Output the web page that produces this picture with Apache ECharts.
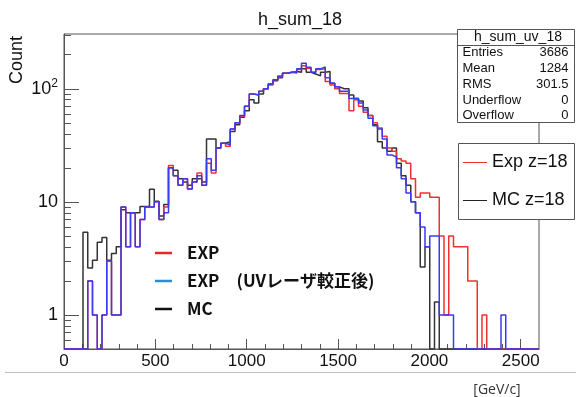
<!DOCTYPE html>
<html><head><meta charset="utf-8">
<script src="https://cdn.jsdelivr.net/npm/echarts@6/dist/echarts.min.js"></script>
<style>html,body{margin:0;padding:0;background:#fff}#c{width:576px;height:397px}</style>
</head><body><div id="c"></div><script>
// histogram: 100 bins of width 26 from 0 to 2600
const binWidth = 26;
const expUvCounts = [0,0,0,0,0,2,1,0,1,3, 1,1,9,4,8,4,7,9,9,10, 7,8,20,17,14,16,13,15,17,14,
  24,19,30,33,32,44,50,58,70,90, 88,95,100,110,120,130,137,140,138,150, 168,155,140,150,156,125,112,104,95,95,
  82,82,75,65,55,47,44,36,26,25, 20,16,12,10,8,6,4,5,5,1, 1,1,0,0,0,0,0,0,0,0, 0,0,1,0,0,0,0,0,0,0];
const expCounts = [0,0,0,0,0,2,1,0,1,3, 1,1,9,4,8,4,7,9,9,10, 7,9,21,17,14,16,13,15,18,14,
  22,18,30,33,31,44,50,57,70,90, 88,95,100,108,120,128,137,140,140,148, 160,152,140,148,150,116,108,100,91,91,
  64,80,70,62,58,50,45,38,30,28, 24,23,22,16,11,12,12,11,11,5, 1,5,4,4,4,2,2,0,1,0, 0,0,0,0,0,0,0,0,0,0];
const mcCounts = [0,0,0,0,5.4,2.6,3.05,4.4,4.85,3.05, 3.5,4.0,8.5,8,8,8,9.1,9.1,12.9,10.1, 7.5,9.5,20,19,16,15,14,16,16,15,
  36,36,30,33,34,42,48,56,64,80, 75,90,100,110,118,125,137,140,142,140, 150,140,135,130,140,142,112,104,100,100,
  88,82,78,68,58,48,34,30,28,30, 22,17,14,10,8,2.65,4,0,1.3,0, 0,0,0,0,0,0,0,0,0,0, 0,0,0,0,0,0,0,0,0,0];
const xMajorTicks = [0,500,1000,1500,2000,2500];
const xMinorTicks = [100,200,300,400,600,700,800,900,1100,1200,1300,1400,1600,1700,1800,1900,2100,2200,2300,2400];
const yMajorTicks = [1,10,100];
const yMinorTicks = [0.6,0.7,0.8,0.9,2,3,4,5,6,7,8,9,20,30,40,50,60,70,80,90,200,300];
const statsTitle = 'h_sum_uv_18';
const statsNames = ['Entries','Mean','RMS','Underflow','Overflow'];
const statsValues = ['3686','1284','301.5','0','0'];

const Y_MIN = 0.5, Y_MAX = 305;
function steps(counts){
  const d = counts.map((c,i)=>[i*binWidth, c>0?c:Y_MIN]);
  const last = counts[counts.length-1];
  d.push([counts.length*binWidth, last>0?last:Y_MIN]);
  return d;
}
const FONT = '"Liberation Sans", Arial, sans-serif';
const AX = '#555';
const chart = echarts.init(document.getElementById('c'), null, {renderer:'canvas'});
const statsChildren = [
  {type:'rect', shape:{x:457.5,y:29.5,width:117,height:93}, style:{fill:'#fff',stroke:AX,lineWidth:1}},
  {type:'line', shape:{x1:457.5,y1:45.5,x2:574.5,y2:45.5}, style:{stroke:AX,lineWidth:1}},
  {type:'text', x:518, y:37.5, style:{text:statsTitle, font:'14px '+FONT, fill:'#111', align:'center', verticalAlign:'middle'}}
];
statsNames.forEach((n,i)=>{
  statsChildren.push({type:'text', x:462.5, y:52.7+i*15.75, style:{text:n, font:'13px '+FONT, fill:'#111', align:'left', verticalAlign:'middle'}});
  statsChildren.push({type:'text', x:568.5, y:52.7+i*15.75, style:{text:statsValues[i], font:'13px '+FONT, fill:'#111', align:'right', verticalAlign:'middle'}});
});
const legendChildren = [
  {type:'rect', shape:{x:458.5,y:143.5,width:116,height:76}, style:{fill:'#fff',stroke:AX,lineWidth:1}},
  {type:'line', shape:{x1:463,y1:162.5,x2:487,y2:162.5}, style:{stroke:'#f03030',lineWidth:1}},
  {type:'text', x:492, y:162.5, style:{text:'Exp z=18', font:'18px '+FONT, fill:'#111', verticalAlign:'middle'}},
  {type:'line', shape:{x1:463,y1:200.5,x2:487,y2:200.5}, style:{stroke:'#222',lineWidth:1}},
  {type:'text', x:492, y:200.5, style:{text:'MC z=18', font:'18px '+FONT, fill:'#111', verticalAlign:'middle'}}
];
const JP = '"Noto Sans CJK JP", "Noto Sans", sans-serif';
const innerLegend = [
  ['EXP','#e8262a',253],
  ['EXP\u3000(UVレーザ較正後)','#2e8bd6',281],
  ['MC','#111',309]
];
const innerChildren = [];
innerLegend.forEach(([t,c,y])=>{
  innerChildren.push({type:'line', shape:{x1:155,y1:y,x2:172,y2:y}, style:{stroke:c,lineWidth:2.5}});
  innerChildren.push({type:'text', x:187, y:y, style:{text:t, font:'bold 17px '+JP, fill:'#111', verticalAlign:'middle'}});
});

chart.setOption({
  animation:false,
  backgroundColor:'#fff',
  title:{text:'h_sum_18', left:253, top:6, textStyle:{fontFamily:FONT, fontSize:18, fontWeight:'normal', color:'#111'}},
  grid:{left:64, top:34, right:37, bottom:48, show:true, borderColor:AX, borderWidth:1, backgroundColor:'transparent'},
  xAxis:[
    {type:'value', min:0, max:2600, position:'bottom',
     axisLine:{show:true, onZero:false, lineStyle:{color:AX,width:1}},
     axisTick:{show:true, inside:true, length:10, customValues:xMajorTicks, lineStyle:{color:AX}},
     axisLabel:{show:true, customValues:xMajorTicks, margin:4, fontFamily:FONT, fontSize:17, color:'#111', formatter:v=>String(v)},
     splitLine:{show:false}},
    {type:'value', min:0, max:2600, position:'bottom',
     axisLine:{show:false, onZero:false},
     axisTick:{show:true, inside:true, length:5, customValues:xMinorTicks, lineStyle:{color:AX}},
     axisLabel:{show:false}, splitLine:{show:false}}
  ],
  yAxis:[
    {type:'log', logBase:10, min:Y_MIN, max:Y_MAX, position:'left',
     axisLine:{show:true, onZero:false, lineStyle:{color:AX,width:1}},
     axisTick:{show:true, inside:true, length:15, customValues:yMajorTicks, lineStyle:{color:AX}},
     axisLabel:{show:true, customValues:yMajorTicks, margin:6,
       formatter:v=> v>=100 ? '{a|10}{b|'+Math.round(Math.log10(v))+'}' : '{a|'+v+'}',
       rich:{a:{fontFamily:FONT, fontSize:18, color:'#111', lineHeight:22},
             b:{fontFamily:FONT, fontSize:12, color:'#111', lineHeight:12, verticalAlign:'top'}}},
     splitLine:{show:false}},
    {type:'log', logBase:10, min:Y_MIN, max:Y_MAX, position:'left',
     axisLine:{show:false, onZero:false},
     axisTick:{show:true, inside:true, length:7, customValues:yMinorTicks, lineStyle:{color:AX}},
     axisLabel:{show:false}, splitLine:{show:false}}
  ],
  series:[
    {name:'MC', type:'line', step:'end', symbol:'none', data:steps(mcCounts), lineStyle:{color:'#333',width:1.5}, itemStyle:{color:'#333'}},
    {name:'Exp', type:'line', step:'end', symbol:'none', data:steps(expCounts), lineStyle:{color:'#f03030',width:1.5}, itemStyle:{color:'#f03030'}},
    {name:'Exp UV', type:'line', step:'end', symbol:'none', data:steps(expUvCounts), lineStyle:{color:'#3a3aee',width:1.5}, itemStyle:{color:'#3a3aee'}}
  ],
  graphic:[
    {type:'text', x:17, y:60, rotation:Math.PI/2, style:{text:'Count', font:'18px '+FONT, fill:'#111', align:'center', verticalAlign:'middle'}},
    {type:'group', children:statsChildren},
    {type:'group', children:legendChildren},
    {type:'group', children:innerChildren},
    {type:'line', shape:{x1:5,y1:372.5,x2:576,y2:372.5}, style:{stroke:'#bdbdbd',lineWidth:1}},
    {type:'text', x:497, y:390, style:{text:'[GeV/c]', font:'14px "Open Sans", "Noto Sans", sans-serif', fill:'#333', align:'center', verticalAlign:'middle'}}
  ]
});
</script></body></html>
